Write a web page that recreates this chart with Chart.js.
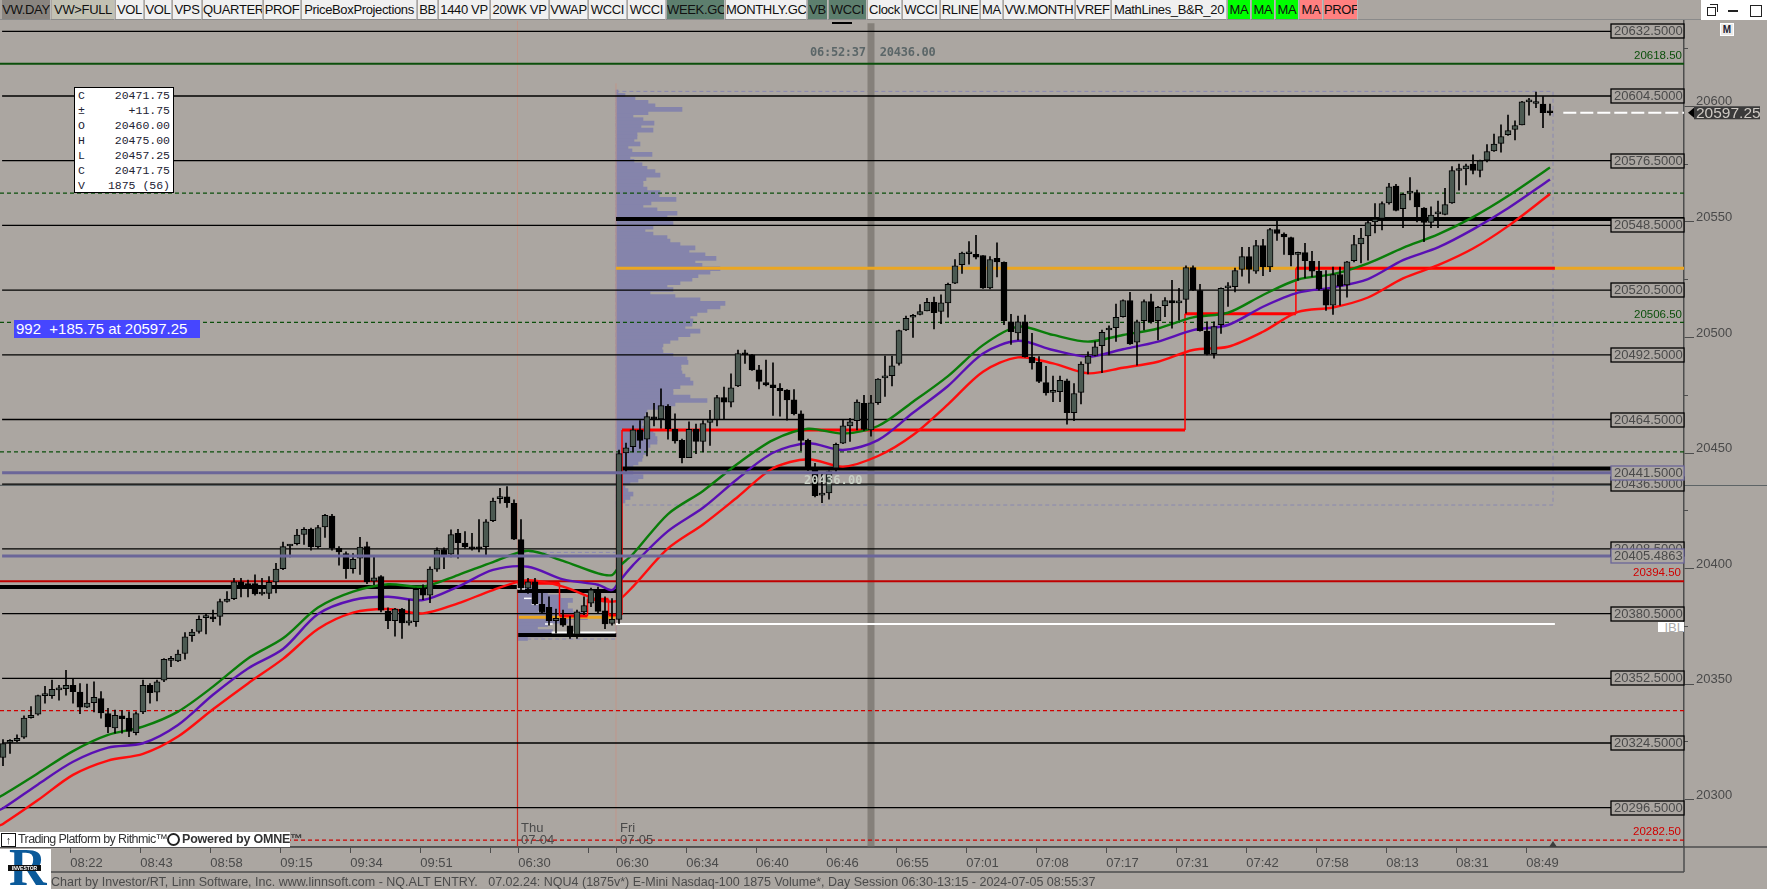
<!DOCTYPE html>
<html>
<head>
<meta charset="utf-8">
<title>NQU4 1875 Volume</title>
<script src="https://cdn.jsdelivr.net/npm/chart.js@4/dist/chart.umd.min.js"></script>
<style>
html,body{margin:0;padding:0;background:#aba6a1;overflow:hidden}
#wrap{position:relative;width:1767px;height:889px;font-family:"Liberation Sans",sans-serif;color:#222}
canvas{position:absolute;left:0;top:0}
.abs{position:absolute;white-space:pre}
.btn{position:absolute;top:0;height:20px;line-height:19px;text-align:center;font-size:13px;letter-spacing:-.35px;color:#111;box-sizing:border-box;border-bottom:1px solid #8a8a8a;border-right:1px solid #bbb;overflow:hidden;white-space:nowrap}
</style>
</head>
<body>
<div id="wrap">
<canvas id="graph" width="1767" height="889"></canvas>
</div>
<script>
// candles, first bar is 88 bars before the Fri 06:30 open
var firstBar = -88;
var opens = [20318.25,20324.75,20325.5,20327,20335.5,20337,20345,20345,20347.5,20348,
20349.5,20346.5,20340,20342,20343.75,20337.25,20331,20336.25,20335.25,20329,
20338,20349.5,20346.5,20351.75,20360.25,20360,20363.25,20371,20372.75,20378.75,
20379,20379.25,20385.75,20387,20394.25,20393.5,20393.5,20389,20389.25,20394.25,
20400,20409.75,20410.75,20414.75,20417,20409.5,20418,20422.75,20408.75,20406.5,
20400,20404.5,20409.5,20394.5,20396.5,20381.5,20377.5,20382.5,20376.5,20377,
20391,20388.5,20399.75,20408.25,20406.25,20415.25,20411,20409,20409,20409.5,
20420.75,20430.25,20431,20428.25,20412.5,20391.5,20394.25,20384.5,20383.25,20377.5,
20378.5,20375.25,20371.5,20381.25,20385,20390.75,20381.75,20376.25,
20378,
20450,20452.75,20460,20456,20465.5,20464.75,20470.25,20460.25,20455.5,
20448,20460.25,20455,20463.25,20464.5,20474,20472,20479,20493,20492.5,
20486,20480.5,20479.5,20478,20477.25,20473,20467,20455.5,20443.5,20431.75,
20432.75,20443.5,20454.25,20461.75,20464,20471.5,20460,20471.75,20482.5,20483.5,
20488.75,20503.25,20508.75,20510,20511.5,20515.25,20511.25,20515,20523.5,20531.5,
20536.25,20536,20535.5,20521.5,20534.25,20532.5,20506.75,20502,20506.75,20491.5,
20489.25,20480.5,20476.25,20476.5,20481.25,20467.5,20476.25,20488.75,20492.25,20496.5,
20503.25,20504.25,20509,20516,20498,20507.25,20515.5,20507.25,20513.75,20516,
20515,20516.5,20530.25,20520.25,20502.75,20493,20505.5,20521.5,20522,20529.5,
20535,20528.75,20539.75,20530.5,20546.75,20544.75,20543.25,20536,20536.75,20533,
20528.75,20520.75,20514,20527.25,20522.75,20533.25,20540.5,20544,20550,20551.5,
20558.25,20565.5,20555.75,20562.5,20562.75,20556,20549.75,20553.5,20553.25,20558.25,
20572.25,20573,20575,20572.25,20576.75,20580.75,20584,20587.75,20590,20592,
20602,20601.25,20601,20597.25];
var highs = [20326,20326,20328,20336.25,20340.25,20345.25,20349,20351.75,20349.5,20356,
20352.25,20350.25,20350,20351,20346.75,20339.5,20338.75,20338.5,20338,20338,
20351.75,20350.25,20351.75,20361,20362,20364.75,20372.25,20373.75,20379.5,20380.5,
20382,20386.75,20390,20395.75,20395.75,20395,20397.25,20395.75,20396.5,20402.25,
20411.5,20410.5,20417,20417.75,20417.5,20418.75,20423.5,20423.5,20409.5,20407.25,
20406.5,20413.5,20411.5,20405,20397,20383,20382.75,20382.75,20386.5,20391.5,
20393,20400.75,20409,20409,20416.75,20417,20416,20415.25,20421.25,20421.25,
20430.5,20434.75,20435.5,20429.75,20421.25,20395.75,20395.75,20390,20387.75,20382.5,
20382,20379.25,20382,20387.75,20391.5,20392,20387.75,20387,
20451.25,
20454.25,20461.75,20464,20467.5,20471.5,20477.75,20471,20467,20456,
20463.5,20462.5,20464,20468.5,20475,20478.5,20484.25,20494.5,20494.5,20492.75,
20488,20490.25,20489,20480,20477.5,20477.5,20468.25,20456,20445.5,20441.25,
20442.25,20454.25,20464.25,20465,20473,20475,20475,20482.25,20492,20492,
20503.25,20509.25,20510,20514.25,20517,20517.5,20518.5,20523.5,20533.75,20537,
20541.5,20544.25,20535.5,20535,20541,20532.75,20510,20509.25,20509.75,20501.75,
20491.75,20487.5,20483.25,20483.25,20482,20480,20489.5,20493.75,20498.25,20503.25,
20505,20514.5,20516.25,20519.5,20507.5,20516.25,20518.75,20513.5,20517.25,20524.75,
20521.25,20531,20531,20523,20506.75,20506.75,20521.5,20523.75,20530,20539,
20539,20542,20542.5,20547.25,20550.5,20545.25,20543.5,20537,20540.75,20537.25,
20533,20529,20530.5,20530.5,20533,20544.25,20547.25,20550.75,20558,20558.75,
20566.75,20566.25,20562.25,20569.25,20563.75,20556.25,20556.5,20559,20564.5,20574,
20575,20575,20579,20576.75,20583.5,20588,20592,20596.25,20593.75,20602.25,
20603.5,20606.25,20604.25,20601];
var lows = [20314.75,20320,20325,20326.5,20335.25,20336.5,20341.75,20343.75,20343,20345.25,
20341.75,20337.25,20339.75,20338,20335.25,20329,20328.75,20328.75,20327.25,20328,
20337.25,20341.75,20342.75,20351,20357.5,20359.75,20360.75,20368.5,20372,20371.75,
20377,20375.5,20385.5,20386.5,20387.75,20387.75,20388.5,20388.5,20387,20389.5,
20399.5,20405,20410.25,20410.5,20408,20408.75,20413.5,20408,20401.5,20395.75,
20398,20397.5,20393.5,20393,20381.25,20374,20370.75,20369.75,20375.5,20375,
20386.5,20385.25,20398.75,20400,20405,20404.5,20408.75,20408,20407.25,20406,
20420.25,20428.25,20426.5,20412.5,20390.75,20389.25,20384.25,20380.5,20375.5,20372,
20375,20369.75,20369.75,20380,20383.5,20380.5,20374,20375.5,
20376.25,
20442,20450.5,20452,20448.75,20461.75,20460.75,20456,20454.25,20445.75,
20448,20449.75,20450.5,20453.25,20461.75,20464.5,20470,20478.75,20488.75,20485.75,
20477.75,20479,20466.25,20466,20464.25,20466.5,20451,20442.5,20431,20428.5,
20430,20442,20454,20455,20460,20459.75,20457.25,20471,20474.5,20479,
20488,20503,20500,20509.75,20511.5,20503.75,20506,20508.75,20523.25,20527.75,
20531.75,20534,20521.25,20521,20526.25,20505.5,20497,20499,20491.5,20486.25,
20480.5,20475,20472.25,20472.25,20462.5,20464,20471.25,20484.25,20492,20484.75,
20492.5,20498.25,20508.75,20497,20488,20503.25,20506.25,20499,20509,20504,
20507.5,20510.5,20520.25,20502.75,20492.5,20491,20501.75,20513.5,20519.75,20526.5,
20523.5,20527.75,20526.75,20528.5,20542,20536,20531,20524.75,20525.75,20526.25,
20520.5,20511.75,20510,20514,20517.5,20532.75,20532.25,20533.5,20545.25,20546.5,
20557.75,20554.75,20547.5,20559.5,20550,20541.5,20547.5,20547.5,20553,20558,
20563.75,20566,20570.75,20569.5,20576,20580.5,20580.25,20587.5,20585.5,20592,
20596.25,20599.5,20590.75,20596.25];
var closes = [20324.25,20325.5,20326.5,20335.25,20336.5,20345,20345.25,20347.75,20348,20349.5,
20346.75,20340,20341.75,20344.25,20337.5,20331.5,20336.5,20335,20329.5,20337.25,
20349.5,20346.25,20351,20360.75,20360.5,20363,20370.5,20372.5,20378,20379,
20378.25,20385.75,20386.75,20394.25,20391.5,20391.5,20389,20389.25,20394,20399.75,
20409.5,20410,20414.5,20417,20409.5,20417.75,20423,20409,20407.25,20400,
20404,20409.25,20394.25,20396,20382,20377.5,20382.5,20376.5,20376.75,20391,
20388.5,20399.75,20408,20406,20414.75,20411.25,20409.5,20408.5,20408.5,20420.25,
20429.25,20431,20428.5,20412.75,20391.5,20394.25,20384.75,20381,20377.5,20378.5,
20375.5,20371.5,20381.25,20384,20390.75,20381.5,20376,20378,
20449.75,
20452.25,20460,20455.5,20465.75,20464.75,20470.5,20460.5,20455.25,20448,
20460.25,20455,20462.75,20464.5,20474,20472,20478.25,20493,20492.5,20486,
20481,20479.5,20478.25,20477,20473,20467,20455.5,20443.5,20431.5,20432.5,
20442,20453.75,20461.75,20463.5,20472,20460.25,20471.75,20482,20483,20487.75,
20503,20508.25,20509.5,20511.25,20515.25,20510.75,20515,20523,20531,20536.5,
20536.5,20534.75,20521.5,20533.75,20532.75,20507.25,20502.5,20506.75,20491.75,20489,
20481,20476,20476.5,20481.5,20467.5,20475.75,20488.5,20492,20496,20502.25,
20503.75,20508.75,20516,20497.25,20506.75,20515.5,20506.75,20513,20516,20515,
20515.25,20530.25,20520.5,20503,20492.75,20504.75,20521.25,20521.75,20529,20535,
20529.5,20539.75,20530.5,20546.75,20545,20543.5,20535.75,20536.75,20533.25,20528.75,
20521,20514,20527.25,20522.25,20532.75,20540.25,20543,20549.75,20551.25,20558,
20565.25,20555,20562,20562.75,20556.5,20549.75,20553,20553.75,20557.5,20572.25,
20572.5,20574.25,20572.25,20576.5,20580.5,20583.75,20587,20589.5,20591.75,20602,
20602.25,20601.5,20597.25,20597.25];

// moving averages, read at these bars
var maBars = [-89,-88,-83,-78,-73,-68,-63,-58,-53,-48,-43,-38,-33,-28,-23,-18,-13,-8,-3,-1,0,2,7,12,17,22,27,32,37,42,47,52,57,62,67,72,77,82,87,92,97,102,107,112,117,122,127,133];
var maGreen = [20300.5,20302,20311.4,20321,20328,20331.6,20338.1,20348.9,20361.1,20369.8,20383.1,20390,20393.2,20392.2,20397.2,20402.8,20407.7,20403.3,20397.9,20397.2,20400.8,20406.3,20423.6,20433.6,20445.5,20455.6,20460.5,20458.4,20461.7,20472.2,20483.3,20496.7,20504.7,20501.1,20498.2,20501.1,20503.9,20508.7,20510.7,20518.4,20525.1,20527.4,20532.1,20538.8,20544.6,20552.1,20561.2,20573.6];
var maPurple = [20295,20296.25,20306.6,20316.4,20322.5,20324.4,20332.3,20345.4,20356.8,20365.2,20380.3,20386.4,20387.8,20386.4,20392.2,20399.4,20400.8,20395.3,20393,20390.7,20394.3,20401.5,20416.2,20426.3,20439,20450.1,20454.2,20451.3,20455.6,20467.4,20479,20493.1,20498.6,20494.6,20491.7,20494.9,20498.2,20503.2,20505.4,20513.3,20519.4,20521.7,20525.3,20533.5,20539,20546.8,20555.9,20568.4];
var maRed = [20288.25,20289.5,20299.8,20310.7,20316.9,20319.8,20327.3,20339.1,20350.3,20360.9,20373.8,20380.9,20382.5,20380.6,20384.9,20390.7,20395,20392.2,20386.4,20385.7,20386.4,20392.2,20408.7,20419.1,20431.1,20443.4,20447.3,20444.1,20448.7,20457.8,20471.1,20485.2,20491.4,20488.8,20484.5,20486.9,20489.5,20494.6,20496,20502.5,20511.1,20513,20517.3,20525.6,20531.3,20538.5,20548.2,20562.1];

// horizontal levels
var blackLevels = [20632.5,20604.5,20576.5,20548.5,20520.5,20492.5,20464.5,20436.5,20408.5,20380.5,20352.5,20324.5,20296.5];
var purpleLevels = [20441.5,20405.4863];
var greenSolid = [20618.5];
var greenDashed = [20562.5,20506.5,20450.5];
var redSolid = [20394.5];
var redDashed = [20338.5,20282.5];
var greenTagged = [20618.5,20506.5];
var redTagged = [20394.5,20282.5];
var lastPrice = 20597.25;
var cursorPrice = 20436;

// volume profiles, one value per 1.5 point bin from the top price down
var friProfileTop = 20606.25;
var friProfile = [2,9,19,32,39,66,32,17,27,38,25,37,21,21,18,24,12,16,36,14,18,26,31,39,44,30,27,27,31,44,43,60,35,27,41,61,51,54,57,37,29,37,51,54,64,79,73,89,100,79,86,104,94,82,76,64,51,57,34,59,84,109,104,91,81,74,77,76,69,84,74,62,54,47,46,47,57,71,72,65,65,66,69,74,77,64,57,57,74,91,59,51,31,29,31,27,26,34,37,39,41,41,34,32,31,27,26,22,17,11,17,27,22,14,9,12,17,14,9,6,2];
var thuProfileTop = 20390.75;
var thuProfile = [20,30,43,55,50,50,55,65,70,50,30,20,35,25,10];

// red step line: bar, price
var stepBars = [-14.5,-8.5,-8.5,-4.5,-4.5,-1.5,-1.5,0.43,0.43,80.86,80.86,96.7,96.7,133.7];
var stepPrices = [20393.6,20393.6,20379.5,20379.5,20386.7,20386.7,20379.9,20379.9,20460,20460,20510.25,20510.25,20530,20530];

// axis ticks
var xTickBars = [-78.4,-68.4,-58.4,-48.4,-38.4,-28.4,-18.4,-14.4,-4.4,-0.4,9.6,19.6,29.6,39.6,49.6,59.6,69.6,79.6,89.6,99.6,109.6,119.6,129.6];
var xTickLabels = ["08:22","08:43","08:58","09:15","09:34","09:51","","06:30","","06:30","06:34","06:40","06:46","06:55","07:01","07:08","07:17","07:31","07:42","07:58","08:13","08:31","08:49"];
var yTicks = [20300,20350,20400,20450,20500,20550,20600];
var yMinorTicks = [20325,20375,20425,20475,20525,20575,20625];

// 7px per bar, bar 0 sits at pixel 619
var xMin = -88.4286, xMax = 152.1429;
var bg = "#aba6a1";

function seg(x1, x2, p, color, w, dash, order) {
  return {type:"line", data:[{x:x1,y:p},{x:x2,y:p}], borderColor:color, borderWidth:w,
    borderDash:dash||[], pointRadius:0, fill:false, order:order};
}

var datasets = [];

// profiles
datasets.push({type:"bar", indexAxis:"y", grouped:false, barThickness:4, order:100,
  backgroundColor:"#8584ab",
  data:friProfile.map(function(v,i){ return {y:friProfileTop-1.5*i, x:[-0.43,-0.43+v/7]}; })});
datasets.push({type:"bar", indexAxis:"y", grouped:false, barThickness:4, order:100,
  backgroundColor:"#8584ab",
  data:thuProfile.map(function(v,i){ return {y:thuProfileTop-1.5*i, x:[-14.5,-14.5+v/7]}; })});

// profile outlines
datasets.push({type:"line", order:95, borderColor:"#8a88b0", borderWidth:1, borderDash:[4,3], pointRadius:0, fill:false,
  data:[{x:-0.43,y:20427.5},{x:-0.43,y:20606.5},{x:133.43,y:20606.5},{x:133.43,y:20427.5},{x:-0.43,y:20427.5}]});
datasets.push({type:"line", order:95, borderColor:"#8a88b0", borderWidth:1, borderDash:[4,3], pointRadius:0, fill:false,
  data:[{x:-14.5,y:20369.5},{x:-14.5,y:20407},{x:-0.4,y:20407},{x:-0.4,y:20369.5},{x:-14.5,y:20369.5}]});

// cursor and session lines
datasets.push({type:"line", order:90, borderColor:"#85807a", borderWidth:7, pointRadius:0, data:[{x:36,y:20279.5},{x:36,y:20636}]});
datasets.push({type:"line", order:89, borderColor:"#c0968a", borderWidth:1, pointRadius:0, data:[{x:-14.5,y:20279.5},{x:-14.5,y:20637}]});
datasets.push({type:"line", order:89, borderColor:"#c0968a", borderWidth:1, pointRadius:0, data:[{x:-0.43,y:20279.5},{x:-0.43,y:20610}]});
datasets.push({type:"line", order:88, borderColor:"#d02a20", borderWidth:1.2, pointRadius:0, data:[{x:-14.5,y:20279.5},{x:-14.5,y:20391}]});

// levels
blackLevels.forEach(function(p){ datasets.push(seg(xMin+0.3,141.8,p,"#000",1.3,null,80)); });
greenSolid.forEach(function(p){ datasets.push(seg(xMin,xMax,p,"#0b4f0b",2,null,80)); });
greenDashed.forEach(function(p){ datasets.push(seg(xMin,xMax,p,"#0b4f0b",1.2,[4,3],80)); });
redSolid.forEach(function(p){ datasets.push(seg(xMin,xMax,p,"#bf0000",2,null,80)); });
redDashed.forEach(function(p){ datasets.push(seg(xMin,xMax,p,"#d00000",1.2,[4,3],80)); });
datasets.push(seg(xMin,xMax,cursorPrice,"#5d6466",1.2,null,81));

// session lines, thick
datasets.push(seg(-0.43,xMax,20530,"#eba621",3,null,72));
datasets.push(seg(-14.3,-0.5,20378.9,"#eba621",3,null,72));
datasets.push(seg(-0.43,xMax,20551.25,"#000",4,null,70));
datasets.push(seg(0.43,141.8,20443.25,"#000",4,null,70));
datasets.push(seg(xMin,-14.6,20392,"#000",4,null,70));
datasets.push(seg(-14.5,-0.4,20390.3,"#000",4,null,70));
datasets.push(seg(-14.4,-0.4,20371.2,"#000",4,null,70));

// red step line
datasets.push({type:"line", order:64, borderColor:"#ff0000", borderWidth:3, pointRadius:0, fill:false,
  data:stepBars.map(function(b,i){ return {x:b,y:stepPrices[i]}; }),
  segment:{borderWidth:function(c){ return c.p0.parsed.x===c.p1.parsed.x ? 1.5 : 3; }}});

// moving averages
function maSet(vals,color){
  return {type:"line", order:60, borderColor:color, borderWidth:2.4, pointRadius:0, fill:false, tension:0.3,
    data:maBars.map(function(b,i){ return {x:b,y:vals[i]}; })};
}
datasets.push(maSet(maGreen,"#0a7d0a"));
datasets.push(maSet(maPurple,"#5a10b4"));
datasets.push(maSet(maRed,"#ff0d0d"));

// white lines
datasets.push(seg(-0.43,133.7,20376,"#fff",2,null,30));
datasets.push(seg(-14.52,-13.43,20391.2,"#fff",1.5,null,30));
datasets.push(seg(-13.57,-12.48,20387.1,"#fff",1.5,null,30));
datasets.push(seg(-12.48,-11.52,20384.7,"#fff",1.5,null,30));
datasets.push(seg(-11.5,-10.57,20381.4,"#fff",1.5,null,30));
datasets.push(seg(-10.57,-9.48,20376,"#fff",1.5,null,30));
datasets.push(seg(-9.62,-0.48,20372.3,"#fff",2,null,30));
datasets.push(seg(134.9,xMax,lastPrice,"#fff",2,[13,4],30));

// candles
datasets.push({type:"bar", grouped:false, barThickness:1, order:20, backgroundColor:"#000",
  data:highs.map(function(h,i){ return {x:firstBar+i, y:[lows[i],h]}; })});
datasets.push({type:"bar", grouped:false, barThickness:6, order:10, minBarLength:2, borderWidth:1, borderColor:"#000", borderSkipped:false,
  backgroundColor:function(c){ var i=c.dataIndex; return closes[i]>opens[i] ? "#4c5a52" : "#000"; },
  data:opens.map(function(o,i){ return {x:firstBar+i, y:[o,closes[i]]}; })});

// purple levels on top
purpleLevels.forEach(function(p){ datasets.push(seg(xMin+0.3,141.8,p,"#6b6699",3,null,5)); });

var overlay = {
  id:"overlay",
  afterDraw:function(chart){
    var ctx=chart.ctx, ys=chart.scales.y, xs=chart.scales.x, a=chart.chartArea;
    ctx.save();
    // frame lines outside the plot
    ctx.strokeStyle="#4d4d4d"; ctx.lineWidth=1.5;
    ctx.beginPath(); ctx.moveTo(a.right,a.bottom); ctx.lineTo(a.right,872); ctx.moveTo(0,a.bottom); ctx.lineTo(1767,a.bottom); ctx.moveTo(51,872); ctx.lineTo(a.right,872); ctx.stroke();
    ctx.strokeStyle="#5d6466"; ctx.lineWidth=1;
    var cy=Math.round(ys.getPixelForValue(cursorPrice))+0.5;
    ctx.beginPath(); ctx.moveTo(a.right,cy); ctx.lineTo(1767,cy); ctx.stroke();
    // price boxes
    ctx.font="13px 'Liberation Sans'"; ctx.textBaseline="middle"; ctx.textAlign="left";
    function box(p,txt,col){
      var py=Math.round(ys.getPixelForValue(p));
      ctx.fillStyle=bg; ctx.fillRect(a.right-73,py-7,73,14);
      ctx.strokeStyle=col; ctx.lineWidth=1.3; ctx.strokeRect(a.right-73,py-7,73,14);
      ctx.fillStyle="#4a4a4a"; ctx.fillText(txt,a.right-70,py+0.5);
    }
    blackLevels.forEach(function(p){ box(p,p.toFixed(4),"#000"); });
    purpleLevels.forEach(function(p){ box(p,p.toFixed(4),"#6b6699"); });
    // colored tags
    ctx.font="11.5px 'Liberation Sans'"; ctx.textAlign="right";
    ctx.fillStyle="#0b4f0b";
    greenTagged.forEach(function(p){ ctx.fillText(p.toFixed(2),a.right-2,ys.getPixelForValue(p)-8); });
    ctx.fillStyle="#d00000";
    redTagged.forEach(function(p){ ctx.fillText(p.toFixed(2),a.right-3,ys.getPixelForValue(p)-8); });
    // last price tag
    var ly=ys.getPixelForValue(lastPrice);
    ctx.fillStyle="#3a3a3a"; ctx.fillRect(1694,ly-6.5,66,13);
    ctx.fillStyle="#000"; ctx.beginPath(); ctx.moveTo(1688,ly); ctx.lineTo(1694,ly-5); ctx.lineTo(1694,ly+5); ctx.fill();
    ctx.fillStyle="#cfcac4"; ctx.font="15.5px 'Liberation Sans'"; ctx.textAlign="left"; ctx.fillText(lastPrice.toFixed(2),1696,ly+0.5);
    // small marks
    ctx.fillStyle="#3d3d3d"; ctx.beginPath(); ctx.moveTo(1549,847); ctx.lineTo(1553,841); ctx.lineTo(1557,847); ctx.fill();
    ctx.fillStyle="#000"; ctx.fillRect(832,22,20,2);
    ctx.restore();
  }
};

var chart = new Chart(document.getElementById("graph").getContext("2d"), {
  type:"line",
  data:{datasets:datasets},
  plugins:[overlay],
  options:{
    responsive:false, animation:false, devicePixelRatio:1,
    layout:{padding:{top:20,left:0,right:0,bottom:0}},
    plugins:{legend:{display:false},tooltip:{enabled:false}},
    scales:{
      x:{type:"linear",min:xMin,max:xMax,offset:false,
        grid:{display:true,drawOnChartArea:false,tickLength:6,tickColor:"#4d4d4d",offset:false},
        border:{color:"#4d4d4d",width:1.5},
        afterBuildTicks:function(s){ s.ticks=xTickBars.map(function(v){return {value:v};}); },
        afterFit:function(s){ s.height=42; },
        ticks:{autoSkip:false,maxRotation:0,minRotation:0,align:"start",padding:3,color:"#4a4a4a",
          font:{family:"Liberation Sans",size:13},
          callback:function(v,i){ return xTickLabels[i]; }}
      },
      y:{type:"linear",position:"right",min:20279.5,max:20637.4,weight:1,offset:false,
        grid:{display:true,drawOnChartArea:false,tickLength:10,tickColor:"#4d4d4d",offset:false},
        border:{color:"#4d4d4d",width:1.5},
        afterBuildTicks:function(s){ s.ticks=yTicks.map(function(v){return {value:v};}); },
        afterFit:function(s){ s.width=83; },
        ticks:{autoSkip:false,padding:2,color:"#4a4a4a",font:{family:"Liberation Sans",size:13,lineHeight:0.7},
          callback:function(v){ return [String(v),""]; }}
      },
      yMinor:{type:"linear",position:"right",min:20279.5,max:20637.4,weight:0,offset:false,
        grid:{display:true,drawOnChartArea:false,tickLength:4,tickColor:"#4d4d4d"},
        border:{display:false},
        afterBuildTicks:function(s){ s.ticks=yMinorTicks.map(function(v){return {value:v};}); },
        afterFit:function(s){ s.width=0; },
        ticks:{display:false}
      }
    }
  }
});

// toolbar and the other window chrome
var wrap = document.getElementById("wrap");
function put(html, css, cls){
  var d=document.createElement("div");
  d.className=cls||"abs"; d.style.cssText=css; d.innerHTML=html;
  wrap.appendChild(d); return d;
}
var toolbarLabels = ["VW.DAY","VW>FULL","VOL","VOL","VPS","QUARTER","PROF","PriceBoxProjections","BB","1440 VP","20WK VP","VWAP","WCCI","WCCI","WEEK.GC","MONTHLY.GC","VB","WCCI","Clock","WCCI","RLINE","MA","VW.MONTH","VREF","MathLines_B&R_20","MA","MA","MA","MA","PROF"];
var toolbarEdges = [2,52,116,145,173,203,264,302,418,439,491,550,589,628,667,726,808,829,868,903,941,981,1004,1076,1112,1228,1252,1276,1300,1324,1359];
var toolbarFills = {0:"#8a8580",1:"#c2c1b3",14:"#5d7f6e",16:"#5d7f6e",17:"#5d7f6e",25:"#00ff00",26:"#00ff00",27:"#00ff00",28:"#ff8080",29:"#ff8080"};
put("","left:0;top:0;width:1701px;height:20px;background:#aba6a1;border-bottom:1px solid #8a8a8a;box-sizing:border-box");
toolbarLabels.forEach(function(t,i){
  var e=toolbarEdges;
  put(t.replace("&","&amp;").replace(">","&gt;"),"left:"+e[i]+"px;width:"+(e[i+1]-e[i]-1)+"px;background:"+(toolbarFills[i]||"#f0f0f0"),"btn");
});
// window buttons
put("","left:1701px;top:0;width:66px;height:20px;background:#fff");
put("","left:1707px;top:7px;width:7px;height:7px;border:1.5px solid #222");
put("","left:1710px;top:4px;width:7px;height:7px;border:1.5px solid #222;border-left:0;border-bottom:0");
put("","left:1728px;top:10px;width:10px;height:1.5px;background:#222");
put("","left:1750px;top:5px;width:10px;height:10px;border:1.5px solid #222");
put("M","left:1720px;top:23px;width:14px;height:13px;background:#eceae8;border:1px solid #fff;box-sizing:border-box;font-size:10px;line-height:11px;text-align:center;font-weight:bold;color:#223")

// info box
var infoRows = [["C","20471.75"],["\u00b1","+11.75"],["O","20460.00"],["H","20475.00"],["L","20457.25"],["C","20471.75"],["V","1875 (56)"]];
var info = put("","left:74px;top:87px;width:100px;height:106px;background:#fff;border:1.5px solid #000;box-sizing:border-box");
infoRows.forEach(function(r,i){
  var top=88+i*15;
  put(r[0],"left:78px;top:"+top+"px;font:11.5px/15px 'Liberation Mono';color:#223");
  put(r[1],"left:90px;width:80px;text-align:right;top:"+top+"px;font:11.5px/15px 'Liberation Mono';color:#223");
});

put("992  +185.75 at 20597.25","left:14px;top:320px;width:186px;height:18px;background:#4646ff;color:#fff;font:15px/18px 'Liberation Sans';padding-left:2px;box-sizing:border-box");
put("06:52:37  20436.00","left:810px;top:45px;font:bold 12px/14px 'DejaVu Sans Mono';color:#5b6668;letter-spacing:-.25px");
put("20436.00","left:804px;top:473px;font:bold 12px/14px 'DejaVu Sans Mono';color:#c8cfc4;letter-spacing:.1px");
put("IBL","left:1658px;top:622px;width:26px;height:10px;background:#fff;color:#aaa;font:13px/11px 'Liberation Sans';text-align:right;overflow:hidden");
put("Thu\n07-04","left:521px;top:822px;font:13px/12px 'Liberation Sans';color:#4a4a4a");
put("Fri\n07-05","left:620px;top:822px;font:13px/12px 'Liberation Sans';color:#4a4a4a");

// bottom left badges
put("","left:0;top:832px;width:290px;height:15px;background:#fff");
put("\u2191","left:1px;top:833px;width:13px;height:12px;border:1px solid #111;font:bold 11px/12px 'Liberation Sans';text-align:center;color:#111");
put("Trading Platform by Rithmic\u2122","left:18px;top:832px;font:12.5px/15px 'Liberation Sans';color:#333;letter-spacing:-.6px");
put("","left:167px;top:833px;width:9px;height:9px;border:2px solid #222;border-radius:50%");
put("Powered by OMNE\u2122","left:182px;top:832px;font:bold 12.5px/15px 'Liberation Sans';color:#333;letter-spacing:-.2px");
put("","left:0;top:849px;width:51px;height:40px;background:#fff");
put("R","left:9px;top:842px;font:bold 52px/52px 'Liberation Serif';color:#0b5a9a");
put("INVESTOR","left:8px;top:865px;width:33px;height:6px;background:#111;color:#fff;font:bold 5px/6px 'Liberation Sans';text-align:center");
put("Chart by Investor/RT, Linn Software, Inc. www.linnsoft.com - NQ.ALT ENTRY.   07.02.24: NQU4 (1875v*) E-Mini Nasdaq-100 1875 Volume*, Day Session 06:30-13:15 - 2024-07-05 08:55:37","left:51px;top:875px;font:12.5px/14px 'Liberation Sans';color:#4a4a4a");
</script>
</body>
</html>
